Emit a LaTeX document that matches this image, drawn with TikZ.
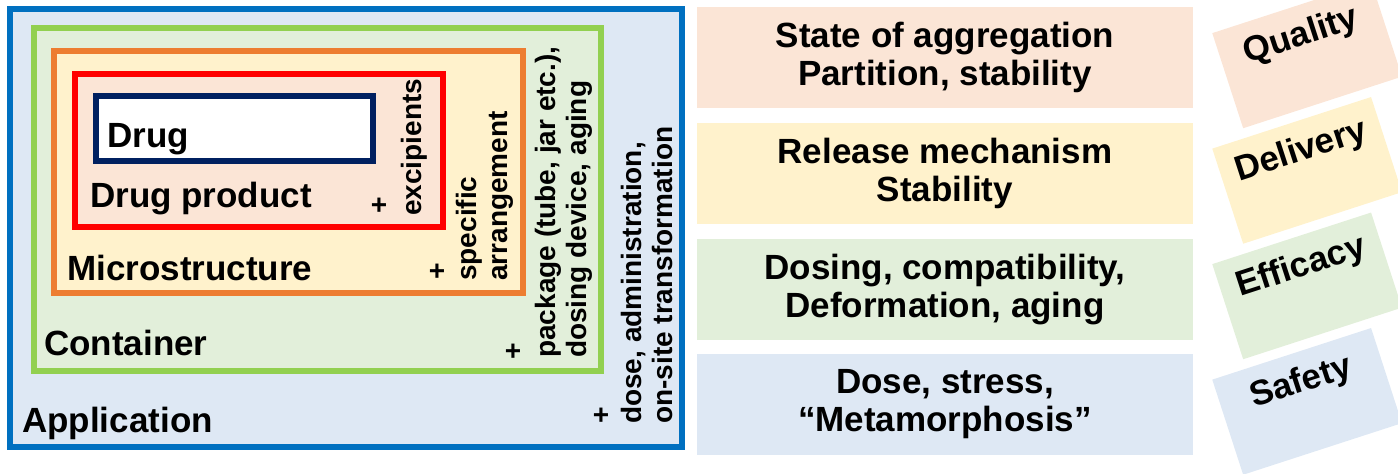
\documentclass[tikz,border=0pt]{standalone}
\usepackage{fontspec}
\setmainfont{Liberation Sans}
\usetikzlibrary{calc}
\definecolor{blueline}{HTML}{0070C0}
\definecolor{greenline}{HTML}{92D050}
\definecolor{orangeline}{HTML}{ED7D31}
\definecolor{redline}{HTML}{FF0000}
\definecolor{navyline}{HTML}{002060}
\definecolor{bluefill}{HTML}{DEE8F4}
\definecolor{greenfill}{HTML}{E2EFDA}
\definecolor{yellowfill}{HTML}{FFF2CC}
\definecolor{peachfill}{HTML}{FBE5D6}
\begin{document}
\begin{tikzpicture}[x=1pt,y=-1pt,
  lab/.style={font=\fontsize{35}{38.5}\selectfont\bfseries, inner sep=0pt, anchor=base west},
  vlab/.style={font=\fontsize{28}{31}\selectfont\bfseries, inner sep=0pt, rotate=90, anchor=west, align=left},
  plus/.style={font=\fontsize{28}{31}\selectfont\bfseries, inner sep=0pt},
  rbox/.style={minimum width=496pt, minimum height=101pt, inner sep=0pt, align=center, font=\fontsize{35}{38.5}\selectfont\bfseries},
  tbox/.style={minimum width=167pt, minimum height=100pt, inner sep=0pt, rotate=18, anchor=north west},
  ttext/.style={font=\fontsize{35}{38.5}\selectfont\bfseries, inner sep=0pt, rotate=18},
  frame/.style={line width=6pt}]
\useasboundingbox (0,0) rectangle (1398,474);
\clip (0,0) rectangle (1398,474);

% nested frames
\draw[frame, draw=blueline, fill=bluefill] (10,8.5) rectangle (682,447);
\draw[frame, draw=greenline, fill=greenfill] (33.5,28) rectangle (601,371);
\draw[frame, draw=orangeline, fill=yellowfill] (54,50.5) rectangle (523,293);
\draw[frame, draw=redline, fill=peachfill] (75,73.5) rectangle (443,227);
\draw[frame, draw=navyline, fill=white] (96,95.5) rectangle (373,161);

% horizontal labels
\node[lab] (drug) at (107,147) {Drug};
\node[lab] (dp) at (90,207) {Drug product};
\node[lab] (micro) at (67,280) {Microstructure};
\node[lab] (cont) at (44,355) {Container};
\node[lab] (app) at (22,432) {Application};

% plus signs
\node[plus] (p1) at (379,206) {+};
\node[plus] (p2) at (437,272) {+};
\node[plus] (p3) at (513,352) {+};
\node[plus] (p4) at (601,416) {+};

% rotated labels
\node[vlab] (v1) at (414,216) {excipients};
\node[vlab] (v2) at (485,281) {specific\\arrangement};
\node[vlab] (v3) at (564,358) {package (tube, jar etc.),\\dosing device, aging};
\node[vlab] (v4) at (647,424) {dose, administration,\\on-site transformation};

% right boxes
\node[rbox, fill=peachfill] (r1) at (945,57.5) {State of aggregation\\Partition, stability};
\node[rbox, fill=yellowfill] (r2) at (945,173.5) {Release mechanism\\Stability};
\node[rbox, fill=greenfill] (r3) at (945,289.5) {Dosing, compatibility,\\Deformation, aging};
\node[rbox, fill=bluefill] (r4) at (945,404) {Dose, stress,\\“Metamorphosis”};

% tilted boxes
\node[tbox, fill=peachfill] (t1) at (1212,33) {};
\node[tbox, fill=yellowfill] (t2) at (1212,148.5) {};
\node[tbox, fill=greenfill] (t3) at (1212,264) {};
\node[tbox, fill=bluefill] (t4) at (1212,379.5) {};
\node[ttext] (q1) at ($(t1.north)!31pt!(t1.south)$) {Quality};
\node[ttext] (q2) at ($(t2.north)!31pt!(t2.south)$) {Delivery};
\node[ttext] (q3) at ($(t3.north)!31pt!(t3.south)$) {Efficacy};
\node[ttext] (q4) at ($(t4.north)!31pt!(t4.south)$) {Safety};
\end{tikzpicture}
\end{document}
